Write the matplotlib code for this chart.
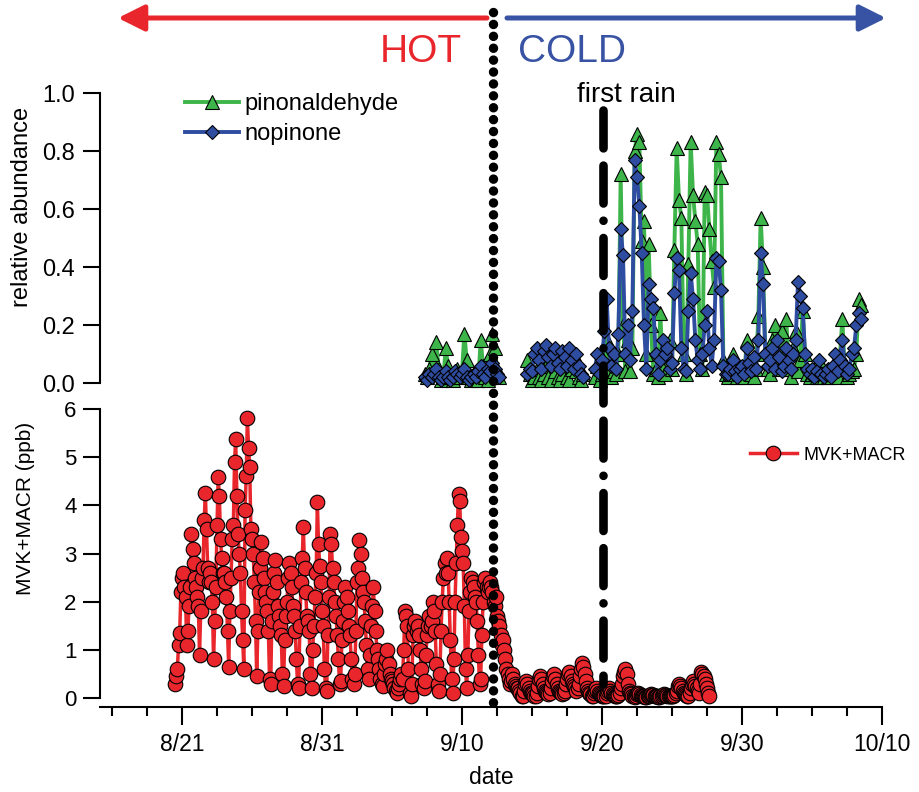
import numpy as np
import matplotlib
matplotlib.use('Agg')
import matplotlib.pyplot as plt
from matplotlib.lines import Line2D
from matplotlib.patches import FancyArrowPatch
from matplotlib.transforms import blended_transform_factory

plt.rcParams['font.family'] = ['Liberation Sans', 'DejaVu Sans']

nan = np.nan

# x axis in "day of August" units (9/1 = 32, 10/1 = 62)
tick_days = [21, 31, 41, 51, 61, 71]
tick_labels = ['8/21', '8/31', '9/10', '9/20', '9/30', '10/10']
hot_cold_day = 43.2
first_rain_day = 51.1

# MVK+MACR (ppb), 2-hourly, one row per day starting 8/20
mvk_start = 20
mvk_per_day = 12
mvk = [
    nan, nan, nan, nan, nan, nan, 0.30, 0.45, 0.60, 1.10, 1.35, 2.20,   # 8/20
    2.50, 2.60, 2.30, 2.10, 1.10, 1.40, 1.90, 2.30, 3.40, 3.10, 2.80, 2.50,
    2.30, 2.10, 1.90, 0.90, 1.80, 2.50, 2.70, 3.70, 4.25, 3.50, 2.70, 2.40,
    2.60, 2.40, 2.00, 0.80, 1.60, 2.30, 3.60, 4.58, 4.20, 3.30, 2.90, 2.60,
    2.60, 2.40, 2.10, 1.40, 0.65, 1.80, 2.50, 3.30, 3.60, 4.90, 5.38, 4.20,
    3.40, 3.00, 2.60, 1.80, 1.20, 0.60, 3.90, 4.60, 5.82, 5.20, 4.80, 3.50,   # 8/25
    3.30, 3.00, 2.40, 1.60, 0.45, 1.40, 2.20, 2.70, 3.23, 2.90, 2.50, 2.20,
    2.00, 1.80, 1.40, 0.40, 0.30, 1.60, 2.20, 2.60, 2.86, 2.40, 1.90, 1.70,
    1.50, 1.30, 0.50, 0.25, 1.20, 1.70, 2.00, 2.50, 2.80, 2.60, 2.30, 1.90,
    1.70, 1.40, 0.80, 0.30, 0.20, 1.50, 2.40, 2.90, 3.55, 2.70, 2.20, 1.70,
    1.60, 1.40, 0.50, 0.20, 1.00, 1.50, 2.10, 2.60, 4.06, 3.20, 2.75, 2.40,   # 8/30
    1.80, 1.50, 0.60, 0.20, 0.15, 1.30, 2.10, 3.40, 3.20, 2.70, 2.40, 2.00,
    1.70, 1.30, 0.80, 0.30, 0.35, 1.20, 1.60, 2.00, 2.30, 2.10, 1.80, 1.50,
    1.30, 0.80, 0.40, 0.30, 0.50, 1.40, 2.40, 2.70, 3.27, 3.00, 2.50, 2.20,
    2.00, 1.60, 1.10, 0.60, 0.40, 0.90, 1.50, 1.90, 2.30, 1.80, 1.40, 1.00,
    0.80, 0.60, 0.40, 0.30, 0.25, 0.50, 0.70, 0.80, 1.00, 0.70, 0.50, 0.40,   # 9/4
    0.35, 0.30, 0.20, 0.15, 0.10, 0.20, 0.30, 0.40, 0.50, 0.40, 1.00, 1.80,
    1.70, 1.50, 0.60, 0.10, 0.05, 0.30, 1.30, 1.50, 1.60, 1.40, 1.50, 1.30,
    1.00, 0.60, 0.30, 0.20, 0.35, 0.90, 1.30, 1.50, 1.70, 1.50, 1.60, 2.00,
    1.80, 1.40, 0.70, 0.30, 0.15, 0.50, 1.40, 2.00, 2.50, 2.80, 2.60, 2.90,
    2.60, 2.00, 1.20, 0.40, 0.10, 0.80, 2.00, 2.80, 3.60, 4.24, 4.10, 3.35,   # 9/9
    3.05, 2.80, 1.90, 0.60, 0.20, 0.90, 1.80, 2.20, 2.50, 2.40, 2.30, 2.10,
    2.00, 1.60, 0.90, 0.30, 0.40, 1.30, 2.00, 2.40, 2.50, 2.30, 2.20, 2.30,
    2.40, 2.30, 2.20, 2.00, 1.90, 2.10, 1.70, 1.60, 1.50, 1.30, 1.10, 1.20,
    1.00, 0.80, 0.60, 0.50, 0.40, 0.30, 0.35, 0.50, 0.40, 0.30, 0.25, 0.20,
    0.20, 0.15, 0.10, 0.05, 0.05, 0.15, 0.30, 0.35, 0.30, 0.20, 0.15, 0.10,   # 9/14
    0.10, 0.08, 0.05, 0.05, 0.10, 0.25, 0.40, 0.45, 0.40, 0.30, 0.20, 0.15,
    0.12, 0.10, 0.08, 0.10, 0.20, 0.35, 0.45, 0.50, 0.40, 0.30, 0.20, 0.15,
    0.12, 0.10, 0.08, 0.10, 0.15, 0.30, 0.40, 0.50, 0.55, 0.45, 0.35, 0.30,
    0.25, 0.20, 0.15, 0.20, 0.30, 0.45, 0.60, 0.72, 0.65, 0.50, 0.35, 0.20,
    0.15, 0.10, 0.08, 0.05, 0.05, 0.10, 0.15, 0.20, 0.15, 0.10, 0.08, 0.06,   # 9/19
    0.05, 0.05, 0.04, 0.05, 0.10, 0.15, 0.20, 0.15, 0.10, 0.08, 0.06, 0.05,
    0.05, 0.05, 0.06, 0.10, 0.20, 0.30, 0.45, 0.55, 0.60, 0.50, 0.30, 0.15,
    0.10, 0.08, 0.05, 0.04, 0.03, 0.05, 0.08, 0.10, 0.08, 0.06, 0.05, 0.04,
    0.04, 0.03, 0.03, 0.04, 0.05, 0.06, 0.08, 0.07, 0.06, 0.05, 0.04, 0.04,
    0.03, 0.03, 0.04, 0.05, 0.06, 0.08, 0.07, 0.06, 0.05, 0.05, 0.04, 0.05,   # 9/24
    0.05, 0.05, 0.06, 0.10, 0.15, 0.25, 0.30, 0.25, 0.20, 0.15, 0.10, 0.08,
    0.06, 0.05, 0.05, 0.10, 0.20, 0.30, 0.35, 0.30, 0.25, 0.20, 0.15, 0.10,
    0.30, 0.55, 0.50, 0.45, 0.40, 0.30, 0.20, 0.10, 0.05, nan, nan, nan,      # 9/27
]

# relative abundance, 4-hourly, one row per day starting 9/7
top_start = 38
top_per_day = 6
pinonaldehyde = [
    nan, nan, 0.03, 0.02, 0.05, 0.10,   # 9/7
    0.03, 0.14, 0.05, 0.01, 0.02, 0.12,
    0.06, 0.02, 0.01, 0.03, 0.05, 0.02,
    0.04, 0.17, 0.08, 0.02, 0.01, 0.03,
    0.02, 0.01, 0.15, 0.06, 0.02, 0.01,
    0.10, 0.17, 0.12, 0.05, 0.02, nan,   # 9/12
    nan, nan, nan, nan, nan, nan,
    nan, nan, nan, nan, 0.08, 0.03,
    0.01, 0.02, 0.05, 0.02, 0.01, 0.03,
    0.06, 0.02, 0.01, 0.09, 0.04, 0.02,
    0.01, 0.03, 0.07, 0.02, 0.01, 0.05,   # 9/17
    0.10, 0.04, 0.02, 0.01, 0.03, nan,
    nan, nan, nan, 0.02, 0.06, 0.01,
    0.03, 0.10, 0.15, 0.05, 0.02, 0.04,
    0.03, 0.10, 0.72, 0.20, 0.04, 0.15,
    0.04, 0.12, 0.80, 0.86, 0.83, 0.49,   # 9/22
    0.56, 0.10, 0.48, 0.20, 0.03, 0.05,
    0.02, 0.24, 0.05, 0.03, 0.10, 0.15,
    0.05, 0.46, 0.81, 0.63, 0.57, 0.10,
    0.03, 0.41, 0.83, 0.65, 0.56, 0.48,
    0.10, 0.05, 0.66, 0.65, 0.53, 0.42,   # 9/27
    0.33, 0.83, 0.79, 0.71, 0.08, 0.03,
    0.02, 0.03, 0.10, 0.05, 0.02, 0.03,
    0.04, 0.02, 0.15, 0.05, 0.03, 0.02,
    0.05, 0.23, 0.57, 0.40, 0.10, 0.05,
    0.03, 0.15, 0.20, 0.08, 0.05, 0.18,   # 10/2
    0.10, 0.22, 0.05, 0.02, 0.12, 0.18,
    0.04, 0.08, 0.25, 0.10, 0.03, 0.02,
    0.03, 0.05, 0.02, 0.08, 0.03, 0.02,
    0.04, 0.02, 0.05, 0.03, 0.06, 0.02,
    0.10, 0.22, 0.05, 0.02, 0.03, 0.04,   # 10/7
    0.05, 0.10, 0.29, 0.27, nan, nan,
]
nopinone = [
    nan, nan, 0.02, 0.01, 0.03, 0.02,   # 9/7
    0.03, 0.05, 0.02, 0.01, 0.02, 0.04,
    0.02, 0.01, 0.02, 0.04, 0.03, 0.02,
    0.03, 0.05, 0.02, 0.01, 0.02, 0.03,
    0.02, 0.04, 0.06, 0.03, 0.02, 0.05,
    0.04, 0.07, 0.05, 0.03, 0.02, nan,   # 9/12
    nan, nan, nan, nan, nan, nan,
    nan, nan, nan, nan, 0.03, 0.05,
    0.04, 0.10, 0.12, 0.08, 0.05, 0.11,
    0.13, 0.09, 0.06, 0.10, 0.12, 0.07,
    0.05, 0.11, 0.09, 0.06, 0.12, 0.08,   # 9/17
    0.05, 0.10, 0.06, 0.03, 0.02, nan,
    nan, nan, nan, 0.05, 0.10, 0.03,
    0.08, 0.18, 0.29, 0.12, 0.06, 0.10,
    0.05, 0.17, 0.53, 0.44, 0.10, 0.20,
    0.08, 0.25, 0.77, 0.71, 0.61, 0.45,   # 9/22
    0.20, 0.05, 0.34, 0.29, 0.26, 0.10,
    0.03, 0.08, 0.15, 0.10, 0.12, 0.05,
    0.07, 0.31, 0.43, 0.39, 0.12, 0.05,
    0.04, 0.25, 0.38, 0.29, 0.15, 0.08,
    0.05, 0.10, 0.20, 0.25, 0.12, 0.06,   # 9/27
    0.15, 0.43, 0.42, 0.32, 0.06, 0.03,
    0.03, 0.05, 0.08, 0.04, 0.02, 0.05,
    0.06, 0.03, 0.12, 0.07, 0.04, 0.09,
    0.05, 0.15, 0.45, 0.34, 0.10, 0.06,
    0.08, 0.12, 0.05, 0.15, 0.09, 0.04,   # 10/2
    0.06, 0.12, 0.08, 0.05, 0.10, 0.15,
    0.35, 0.30, 0.26, 0.10, 0.05, 0.03,
    0.05, 0.02, 0.04, 0.08, 0.03, 0.02,
    0.03, 0.05, 0.02, 0.06, 0.10, 0.04,
    0.08, 0.15, 0.06, 0.03, 0.05, 0.10,   # 10/7
    0.12, 0.20, 0.24, 0.22, nan, nan,
]

t_mvk = mvk_start + np.arange(len(mvk)) / mvk_per_day
t_top = top_start + np.arange(len(pinonaldehyde)) / top_per_day

red = '#E8262B'
blue = '#3953A4'
green = '#3DB54A'
dblue = '#2E4DA0'

W, H = 919, 792
fig = plt.figure(figsize=(W / 100, H / 100), dpi=100)
ax_top = fig.add_axes([100 / W, 1 - 383 / H, 782 / W, 290 / H])
ax_bot = fig.add_axes([100 / W, 1 - 698 / H, 782 / W, 289 / H])

xmin, xmax = 15.14, 71

# top panel
ax_top.plot(t_top, pinonaldehyde, color=green, lw=2.8, marker='^', ms=10.5,
            mfc=green, mec='black', mew=0.8, label='pinonaldehyde', clip_on=False)
ax_top.plot(t_top, nopinone, color=dblue, lw=2.8, marker='D', ms=7,
            mfc=dblue, mec='black', mew=0.8, label='nopinone', clip_on=False)
ax_top.set_xlim(xmin, xmax)
ax_top.set_ylim(0, 1)
ax_top.set_yticks(np.arange(0, 1.01, 0.2))
ax_top.set_yticklabels(['0.0', '0.2', '0.4', '0.6', '0.8', '1.0'])
for s in ['top', 'right', 'bottom']:
    ax_top.spines[s].set_visible(False)
ax_top.spines['left'].set_linewidth(1.5)
ax_top.set_xticks([])
ax_top.tick_params(axis='y', direction='out', length=12, width=1.5, labelsize=17, pad=6)
ax_top.set_ylabel('relative abundance', fontsize=17)
ax_top.yaxis.set_label_coords(-0.086, 0.607)
ax_top.legend(loc='center left', bbox_to_anchor=(185 / W, 1 - 119 / H),
              bbox_transform=fig.transFigure, frameon=False, fontsize=17,
              handlelength=2.3, handletextpad=0.2, borderpad=0, borderaxespad=0,
              labelspacing=0.35)

# bottom panel
ax_bot.plot(t_mvk, mvk, color=red, lw=2.5, marker='o', ms=10.5,
            mfc=red, mec='black', mew=0.8, label='MVK+MACR', clip_on=False)
ax_bot.set_xlim(xmin, xmax)
ax_bot.set_ylim(0, 6)
ax_bot.set_yticks(range(0, 7))
for s in ['top', 'right']:
    ax_bot.spines[s].set_visible(False)
ax_bot.spines['left'].set_linewidth(1.5)
ax_bot.spines['bottom'].set_linewidth(1.5)
ax_bot.spines['bottom'].set_position(('outward', 6.5))
ax_bot.set_xticks(tick_days)
ax_bot.set_xticklabels(tick_labels)
ax_bot.set_xticks(np.arange(16, 71, 2.5), minor=True)
ax_bot.tick_params(axis='y', direction='out', length=12, width=1.5, labelsize=16, pad=5)
ax_bot.tick_params(axis='x', which='major', direction='out', length=13, width=1.5,
                   labelsize=16.5, pad=6)
ax_bot.tick_params(axis='x', which='minor', direction='out', length=6.5, width=1.5)
ax_bot.set_ylabel('MVK+MACR (ppb)', fontsize=15)
ax_bot.yaxis.set_label_coords(-0.083, 0.657)
ax_bot.set_xlabel('date', fontsize=16.5)
ax_bot.xaxis.set_label_coords(0.5, -0.235)
ax_bot.legend(loc='center left', bbox_to_anchor=(750 / W, 1 - 455 / H),
              bbox_transform=fig.transFigure, frameon=False, fontsize=13,
              handlelength=2.6, handletextpad=0.35, borderpad=0, borderaxespad=0)

# event lines spanning both panels
trans = blended_transform_factory(ax_bot.transData, fig.transFigure)
fig.add_artist(Line2D([hot_cold_day, hot_cold_day], [1 - 12 / H, 1 - 703 / H],
                      transform=trans, color='black', lw=6.8,
                      linestyle=(0, (0.01, 1.25)), dash_capstyle='round'))
fig.add_artist(Line2D([first_rain_day, first_rain_day], [1 - 110 / H, 1 - 684 / H],
                      transform=trans, color='black', lw=6.2,
                      linestyle=(0, (4.4, 2.0, 4.4, 2.0, 0.01, 2.0)),
                      dash_capstyle='round'))

# HOT / COLD arrows
fig.add_artist(FancyArrowPatch((487 / W, 1 - 18 / H), (118 / W, 1 - 18 / H),
                               transform=fig.transFigure, color=red, lw=3.6,
                               arrowstyle='-|>,head_length=0.8,head_width=0.4',
                               mutation_scale=20, shrinkA=0, shrinkB=0))
fig.add_artist(FancyArrowPatch((507 / W, 1 - 18 / H), (886 / W, 1 - 18 / H),
                               transform=fig.transFigure, color=blue, lw=3.6,
                               arrowstyle='-|>,head_length=0.8,head_width=0.4',
                               mutation_scale=20, shrinkA=0, shrinkB=0))
fig.text(462 / W, 1 - 62 / H, 'HOT', color=red, fontsize=28, ha='right', va='baseline')
fig.text(518 / W, 1 - 62 / H, 'COLD', color=blue, fontsize=28, ha='left', va='baseline')
fig.text(626 / W, 1 - 102 / H, 'first rain', color='black', fontsize=20,
         ha='center', va='baseline')

fig.savefig('out.png', dpi=100)
